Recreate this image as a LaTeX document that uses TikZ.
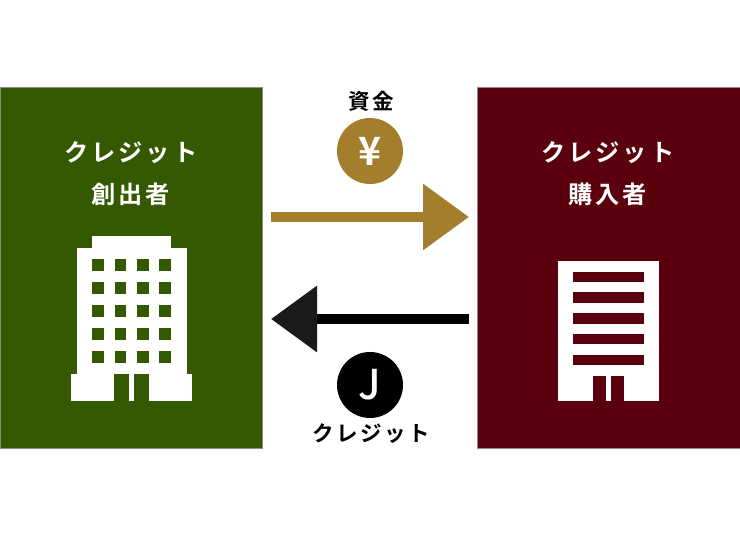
\documentclass[tikz,border=0pt]{standalone}
\usepackage{fontspec}
\newfontfamily\jpfont[LetterSpace=12,BoldFont={Noto Sans CJK JP Bold}]{Noto Sans CJK JP}
\newfontfamily\signfont{Noto Sans CJK JP Bold}
\newfontfamily\jayfont{Noto Sans CJK JP Medium}
\usetikzlibrary{arrows.meta,positioning}
\definecolor{creatorgreen}{HTML}{345900}
\definecolor{buyerred}{HTML}{5B000D}
\definecolor{fundgold}{HTML}{A37F2D}
\definecolor{tipblack}{HTML}{1A1A1A}
\tikzset{
    %Define style for boxes
    panel/.style={
           rectangle,
           draw=black!45!white, line width=.5pt,
           minimum width=262.5pt,
           minimum height=361pt,
           inner sep=0pt},
    heading/.style={
           text=white,
           inner sep=0pt,
           font=\jpfont\bfseries\fontsize{24.2pt}{26pt}\selectfont},
    caption/.style={
           text=black,
           inner sep=0pt,
           font=\jpfont\bfseries\fontsize{21.5pt}{23pt}\selectfont},
    coin/.style={
           circle,
           minimum size=66pt,
           inner sep=0pt,
           text=white,
           font=\signfont\fontsize{39pt}{42pt}\selectfont},
    % Define arrow style
    flow/.style={
           line width=10pt,
           -{Triangle[length=46pt,width=64pt]}},
    part/.style={fill=white},
}
\begin{document}
\begin{tikzpicture}[x=1pt,y=-1pt]
\useasboundingbox (0,0) rectangle (740,534);
\node[panel,fill=creatorgreen](creator) at (131.25,267.5){};
\node[panel,fill=buyerred](buyer) at (608.75,267.5){};
\node[heading](creatorA) at (131,152.5){クレジット};
\node[heading](creatorB) at (130.5,194.5){創出者};
\node[heading](buyerA) at (608,152.5){クレジット};
\node[heading](buyerB) at (607.5,194.5){購入者};
% office on the left
\fill[part] (92,236.5) rectangle (171,249);
\fill[part] (77,248) rectangle (187,375);
\fill[part] (71,374) rectangle (114.3,401);
\fill[part] (129,374) rectangle (134.3,401);
\fill[part] (148.5,374) rectangle (192,401);
\foreach \wx in {92.3,114.7,137,159.3}
  \foreach \wy in {259.3,282.3,305.3,328.3,351.3}
    \fill[creatorgreen] (\wx,\wy) rectangle +(11.5,11.5);
\fill[creatorgreen] (114.3,374) rectangle (129,375);
\fill[creatorgreen] (134.3,374) rectangle (148.5,375);
% office on the right
\fill[part] (558.3,261.3) rectangle (658.7,401.3);
\foreach \wy in {271.7,292.5,313.3,334.2,355}
  \fill[buyerred] (572.7,\wy) rectangle +(71.6,10.3);
\fill[buyerred] (593,376) rectangle (605.7,401.3);
\fill[buyerred] (611,376) rectangle (623.7,401.3);
% money and credit
\node[caption](fundlabel) at (371,101.5){資金};
\node[coin,fill=fundgold](yen) at (370,151){¥};
\coordinate (fundA) at (271,217);
\coordinate (fundB) at (469,217);
\draw[flow,draw=fundgold] (fundA) -- (fundB);
\coordinate (creditA) at (469,319);
\coordinate (creditB) at (271,319);
\draw[flow,draw=black,-{Triangle[length=46pt,width=64pt,color=tipblack]}] (creditA) -- (creditB);
\node[coin,fill=black,font=\jayfont\fontsize{41pt}{44pt}\selectfont](jay) at (370,385){J};
\node[caption](creditlabel) at (371,433.5){クレジット};
\end{tikzpicture}
\end{document}
